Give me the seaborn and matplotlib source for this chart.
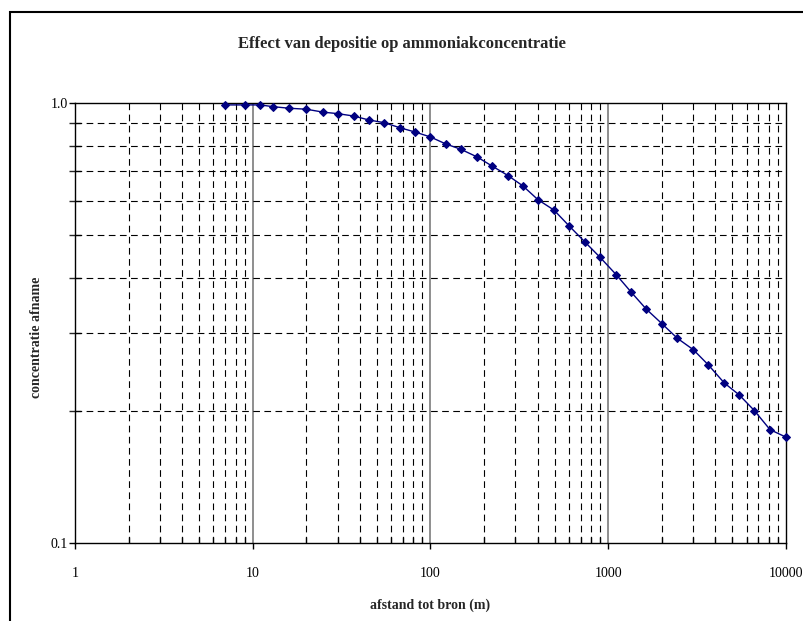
import numpy as np
import pandas as pd
import matplotlib
matplotlib.use('Agg')
import matplotlib.pyplot as plt
import seaborn as sns
from matplotlib.ticker import FixedLocator, NullFormatter, FixedFormatter
from matplotlib.patches import Rectangle

# Values
afstand = [7, 9, 11, 13, 16, 20, 25, 30, 37, 45, 55, 67, 82, 100, 122,
           148, 183, 222, 273, 331, 402, 495, 604, 740, 899, 1110, 1343,
           1637, 2006, 2446, 3010, 3655, 4498, 5460, 6635, 8128, 10000]
afname = [0.990, 0.990, 0.990, 0.981, 0.973, 0.968, 0.953, 0.946, 0.934,
          0.915, 0.902, 0.879, 0.859, 0.837, 0.807, 0.785, 0.754, 0.719,
          0.684, 0.648, 0.603, 0.571, 0.525, 0.483, 0.446, 0.407, 0.372,
          0.340, 0.315, 0.292, 0.275, 0.254, 0.231, 0.217, 0.200, 0.181,
          0.174]

x_major = [1, 10, 100, 1000, 10000]
x_labels = ['1', '10', '100', '1000', '10000']
y_major = [0.1, 1.0]
y_labels = ['0.1', '1.0']
y_minor = [0.2, 0.3, 0.4, 0.5, 0.6, 0.7, 0.8, 0.9]

df = pd.DataFrame({'afstand': afstand, 'afname': afname})

sns.set_style('white')
plt.rcParams['font.family'] = ['Liberation Serif', 'DejaVu Serif']

fig = plt.figure(figsize=(8.04, 6.21), dpi=100)
ax = fig.add_axes([75 / 804, 78 / 621, 711 / 804, 440 / 621])

ax.set_xscale('log')
ax.set_yscale('log')
ax.set_xlim(1, 10000)
ax.set_ylim(0.1, 1.0)

# grid: solid grey at decades, dashed black elsewhere
x_minor = [m * d for d in [1, 10, 100, 1000] for m in range(2, 10)]
for v in x_minor:
    ax.axvline(v, color='black', lw=0.8, ls=(0, (6, 4)), zorder=1)
for v in x_major[1:-1]:
    ax.axvline(v, color='#707070', lw=1.1, zorder=1)
for v in y_minor:
    ax.axhline(v, color='black', lw=0.8, ls=(0, (6, 4)), zorder=1)

sns.lineplot(data=df, x='afstand', y='afname', ax=ax, color='#000080',
             lw=1.0, marker='D', markersize=4, markeredgecolor='#000080',
             zorder=3, legend=False, clip_on=False)

ax.xaxis.set_major_locator(FixedLocator(x_major))
ax.xaxis.set_major_formatter(FixedFormatter(x_labels))
ax.xaxis.set_minor_locator(FixedLocator(x_minor))
ax.xaxis.set_minor_formatter(NullFormatter())
ax.yaxis.set_major_locator(FixedLocator(y_major))
ax.yaxis.set_major_formatter(FixedFormatter(y_labels))
ax.yaxis.set_minor_locator(FixedLocator(y_minor))
ax.yaxis.set_minor_formatter(NullFormatter())

ax.tick_params(axis='both', which='major', direction='out', length=4,
               width=1, labelsize=10, colors='black')
ax.tick_params(axis='x', which='minor', direction='in', length=4, width=1)
ax.tick_params(axis='y', which='minor', direction='inout', length=8, width=1)
ax.tick_params(axis='y', which='major', pad=1)
ax.tick_params(axis='x', which='major', pad=13.5)
ax.xaxis.set_ticks_position('bottom')
ax.yaxis.set_ticks_position('left')

for side in ['left', 'bottom', 'top', 'right']:
    ax.spines[side].set_color('black')
    ax.spines[side].set_linewidth(1.0)

ax.set_xlabel('afstand tot bron (m)', fontsize=10, fontweight='bold')
ax.set_ylabel('concentratie afname', fontsize=10, fontweight='bold')
ax.xaxis.set_label_coords(0.5, -(605 - 543) / 440)
ax.yaxis.set_label_coords(-(75 - 37) / 711, (543 - 337) / 440)
ax.xaxis.label.set_va('center')
ax.yaxis.label.set_va('center')
fig.text(0.5, 1 - 44 / 621, 'Effect van depositie op ammoniakconcentratie',
         ha='center', va='center', fontsize=12, fontweight='bold')

# outer chart frame (cut off at right and bottom)
fig.patches.append(Rectangle((10 / 804, -0.05), 1.1, 1 - 12 / 621 + 0.05,
                             transform=fig.transFigure, fill=False,
                             edgecolor='black', lw=1.5, zorder=0))

fig.savefig('out.png', dpi=100)
